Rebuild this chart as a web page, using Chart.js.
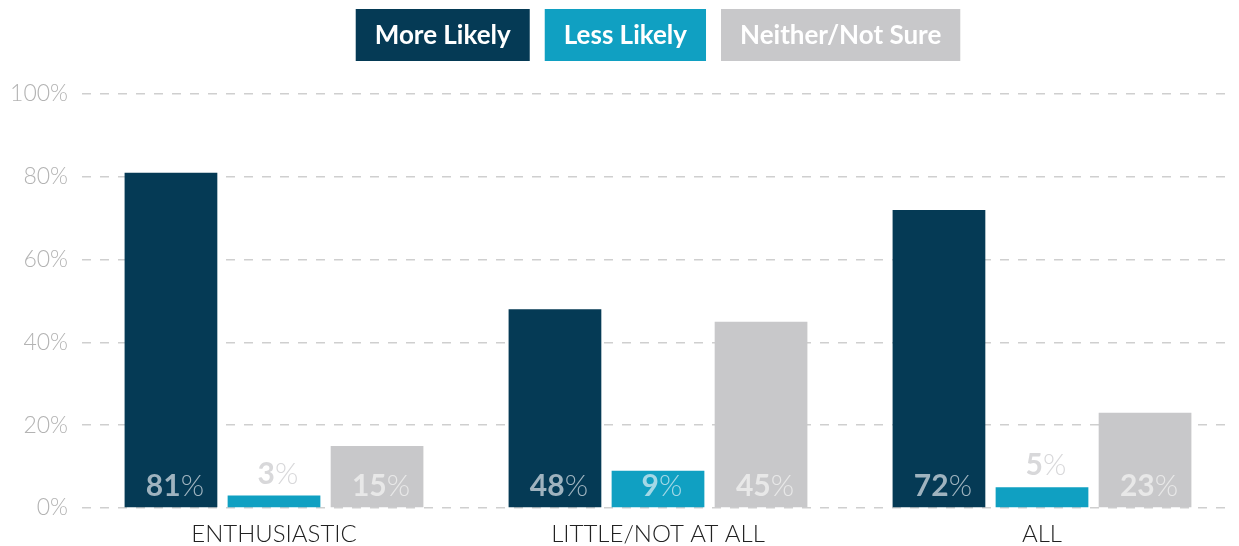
<!DOCTYPE html>
<html>
<head>
<meta charset="utf-8">
<script src="https://cdn.jsdelivr.net/npm/chart.js@4/dist/chart.umd.min.js"></script>
<style>
html,body{margin:0;padding:0;background:#fff;}
#wrap{width:1239px;height:546px;position:relative;}
</style>
</head>
<body>
<div id="wrap"><canvas id="c" width="1239" height="546"></canvas></div>
<script>
const categories = ["ENTHUSIASTIC", "LITTLE/NOT AT ALL", "ALL"];
const seriesNames = ["More Likely", "Less Likely", "Neither/Not Sure"];
const moreLikely = [81, 48, 72];
const lessLikely = [3, 9, 5];
const neitherNotSure = [15, 45, 23];
const yTicks = [0, 20, 40, 60, 80, 100];

const colors = ["#053a55", "#10a0c2", "#c8c8ca"];
const labelInside = ["#9fb3bf", "#a3d8e6", "#e8e8e8"];
const labelAbove = "#d8d8da";
const FONT = "Lato, 'Open Sans', sans-serif";

const legendPlugin = {
  id: 'boxLegend',
  afterDraw(chart) {
    const ctx = chart.ctx;
    const ca = chart.chartArea;
    ctx.save();
    ctx.font = "bold 26px " + FONT;
    const padX = 19, gap = 15, top = 9, h = 52;
    const widths = seriesNames.map(n => ctx.measureText(n).width + padX * 2);
    const total = widths.reduce((a, b) => a + b, 0) + gap * (widths.length - 1);
    let x = (ca.left + ca.right) / 2 - total / 2;
    seriesNames.forEach((n, i) => {
      ctx.fillStyle = colors[i];
      ctx.fillRect(x, top, widths[i], h);
      ctx.fillStyle = "#ffffff";
      ctx.textAlign = "center";
      ctx.textBaseline = "middle";
      ctx.fillText(n, x + widths[i] / 2, top + h / 2 + 1);
      x += widths[i] + gap;
    });
    ctx.restore();
  }
};

const valueLabels = {
  id: 'valueLabels',
  afterDatasetsDraw(chart) {
    const ctx = chart.ctx;
    ctx.save();
    chart.data.datasets.forEach((ds, di) => {
      const meta = chart.getDatasetMeta(di);
      meta.data.forEach((bar, i) => {
        const v = ds.data[i];
        const num = String(v);
        ctx.font = "bold 30px " + FONT;
        const wNum = ctx.measureText(num).width;
        ctx.font = "300 30px " + FONT;
        const wPct = ctx.measureText("%").width;
        const total = wNum + wPct;
        const barH = bar.base - bar.y;
        let baseline, color;
        if (barH > 34) {
          baseline = bar.base - 11;
          color = labelInside[di];
        } else {
          baseline = bar.y - 12;
          color = labelAbove;
        }
        let x = bar.x - total / 2 + 4;
        ctx.textAlign = "left";
        ctx.textBaseline = "alphabetic";
        ctx.fillStyle = color;
        ctx.font = "bold 30px " + FONT;
        ctx.fillText(num, x, baseline);
        ctx.font = "300 30px " + FONT;
        ctx.fillText("%", x + wNum, baseline);
      });
    });
    ctx.restore();
  }
};

new Chart(document.getElementById('c'), {
  type: 'bar',
  data: {
    labels: categories,
    datasets: [
      { label: seriesNames[0], data: moreLikely, backgroundColor: colors[0] },
      { label: seriesNames[1], data: lessLikely, backgroundColor: colors[1] },
      { label: seriesNames[2], data: neitherNotSure, backgroundColor: colors[2] }
    ]
  },
  options: {
    responsive: false,
    animation: false,
    events: [],
    layout: { padding: { top: 94, right: 5, left: 0, bottom: 0 } },
    datasets: { bar: { categoryPercentage: 0.805, barPercentage: 0.9 } },
    plugins: { legend: { display: false }, tooltip: { enabled: false } },
    scales: {
      x: {
        afterFit(scale) { scale.height = 38; },
        grid: { display: false, drawTicks: false },
        border: { display: false },
        ticks: { color: "#222222", font: { family: FONT, size: 24, weight: '300' }, padding: 12 }
      },
      y: {
        min: 0, max: 100,
        afterBuildTicks(scale) { scale.ticks = yTicks.map(v => ({ value: v })); },
        afterFit(scale) { scale.width = 82; },
        grid: { color: "#cfcfcf", lineWidth: 1.5, drawTicks: false },
        border: { display: false, dash: [9, 9] },
        ticks: { color: "#b3b3b3", font: { family: FONT, size: 23, weight: '300' }, padding: 14,
                 callback: v => v + "%" }
      }
    }
  },
  plugins: [legendPlugin, valueLabels]
});
</script>
</body>
</html>
